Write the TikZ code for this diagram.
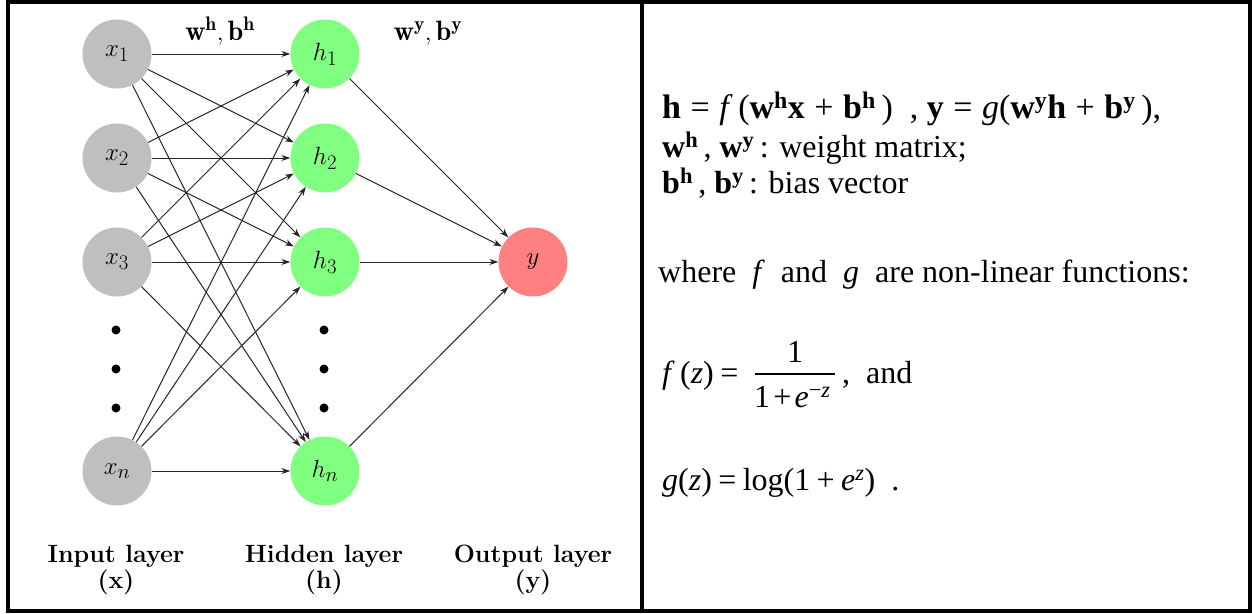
\documentclass[tikz,border=0pt]{standalone}
\usepackage{fontspec}
\usetikzlibrary{arrows.meta}
\newfontfamily\tnr{Liberation Serif}
\newcommand\sps[1]{\textsuperscript{\bfseries #1}}
\newcommand\op[1]{\hspace{0.2em}#1\hspace{0.2em}}
\newcommand\opw[1]{\hspace{0.28em}#1\hspace{0.28em}}
\newcommand\opn[1]{\hspace{0.1em}#1\hspace{0.1em}}
\begin{document}
\begin{tikzpicture}[x=1pt,y=-1pt,
  neuron/.style={circle,minimum size=69pt,inner sep=0pt,font=\fontsize{28}{32}\selectfont},
  inp/.style={neuron,fill=black!25},
  hid/.style={neuron,fill=green!50},
  outp/.style={neuron,fill=red!50},
  conn/.style={-{Stealth[length=9pt,width=6pt]},line width=1pt,black!85},
  dotn/.style={circle,fill=black,minimum size=9pt,inner sep=0pt},
  lbl/.style={anchor=base,inner sep=0pt,font=\fontsize{25}{28}\selectfont\bfseries},
  wlbl/.style={anchor=base,inner sep=0pt,font=\fontsize{28}{32}\selectfont},
  rtxt/.style={anchor=base west,inner sep=0pt,font=\tnr\fontsize{32}{38}\selectfont},
  frame/.style={line width=4pt,black}
]
\useasboundingbox (0,0) rectangle (1252,613);
\fill[white] (0,0) rectangle (1252,613);
\draw[frame] (8,2) rectangle (1250,611);
\draw[frame] (642,2) -- (642,611);

% nodes
\node[inp] (x1) at (117,54) {$x_1$};
\node[inp] (x2) at (117,158) {$x_2$};
\node[inp] (x3) at (117,262) {$x_3$};
\node[inp] (xn) at (117,471) {$x_n$};
\node[hid] (h1) at (325,54) {$h_1$};
\node[hid] (h2) at (325,158) {$h_2$};
\node[hid] (h3) at (325,262) {$h_3$};
\node[hid] (hn) at (325,471) {$h_n$};
\node[outp] (y) at (533,262) {$y$};

\node[dotn] (dx1) at (116,330) {};
\node[dotn] (dx2) at (116,369) {};
\node[dotn] (dx3) at (116,408) {};
\node[dotn] (dh1) at (324,330) {};
\node[dotn] (dh2) at (324,369) {};
\node[dotn] (dh3) at (324,408) {};

\foreach \a in {x1,x2,x3,xn}
  \foreach \b in {h1,h2,h3,hn}
    \draw[conn] (\a) -- (\b);
\foreach \b in {h1,h2,h3,hn}
  \draw[conn] (\b) -- (y);

\node[wlbl] (wh) at (220,40) {$\mathbf{w^h}, \mathbf{b^h}$};
\node[wlbl] (wy) at (428,40) {$\mathbf{w^y}, \mathbf{b^y}$};

\node[lbl] (li1) at (116,562) {Input layer};
\node[lbl] (li2) at (116,588) {(x)};
\node[lbl] (lh1) at (324,562) {Hidden layer};
\node[lbl] (lh2) at (324,588) {(h)};
\node[lbl] (lo1) at (533,562) {Output layer};
\node[lbl] (lo2) at (533,588) {(y)};

% right panel
\node[rtxt,font=\tnr\fontsize{34}{40}\selectfont] (r1) at (662,118) {\textbf{h}\opw{=}\textit{f}\,(\textbf{w}\sps{h}\textbf{x}\opw{+}\textbf{b}\sps{h}\,)\ \ ,\ \textbf{y}\opw{=}\textit{g}(\textbf{w}\sps{y}\textbf{h}\opw{+}\textbf{b}\sps{y}\,),};
\node[rtxt] (r2) at (662,157) {\textbf{w}\sps{h}\,, \textbf{w}\sps{y}\,: weight matrix;};
\node[rtxt] (r3) at (662,193) {\textbf{b}\sps{h}\,, \textbf{b}\sps{y}\,: bias vector};
\node[rtxt] (r4) at (658,282) {where\ \ \textit{f}\ \ and\ \ \textit{g}\ \ are non-linear functions:};
\node[rtxt] (r5) at (662,383) {\textit{f}\,(\textit{z})\op{=}};
\node[rtxt,anchor=base] (num) at (795,362) {1};
\draw[line width=1.5pt] (755,374) -- (835,374);
\node[rtxt] (den) at (754,407) {1\opn{+}\textit{e}\textsuperscript{\char"2212\textit{z}}};
\node[rtxt] (r5b) at (842,383) {,\ \ and};
\node[rtxt] (r6) at (662,490) {\textit{g}(\textit{z})\op{=}log(1\op{+}\textit{e}\textsuperscript{\textit{z}})\ \ .};
\end{tikzpicture}
\end{document}
